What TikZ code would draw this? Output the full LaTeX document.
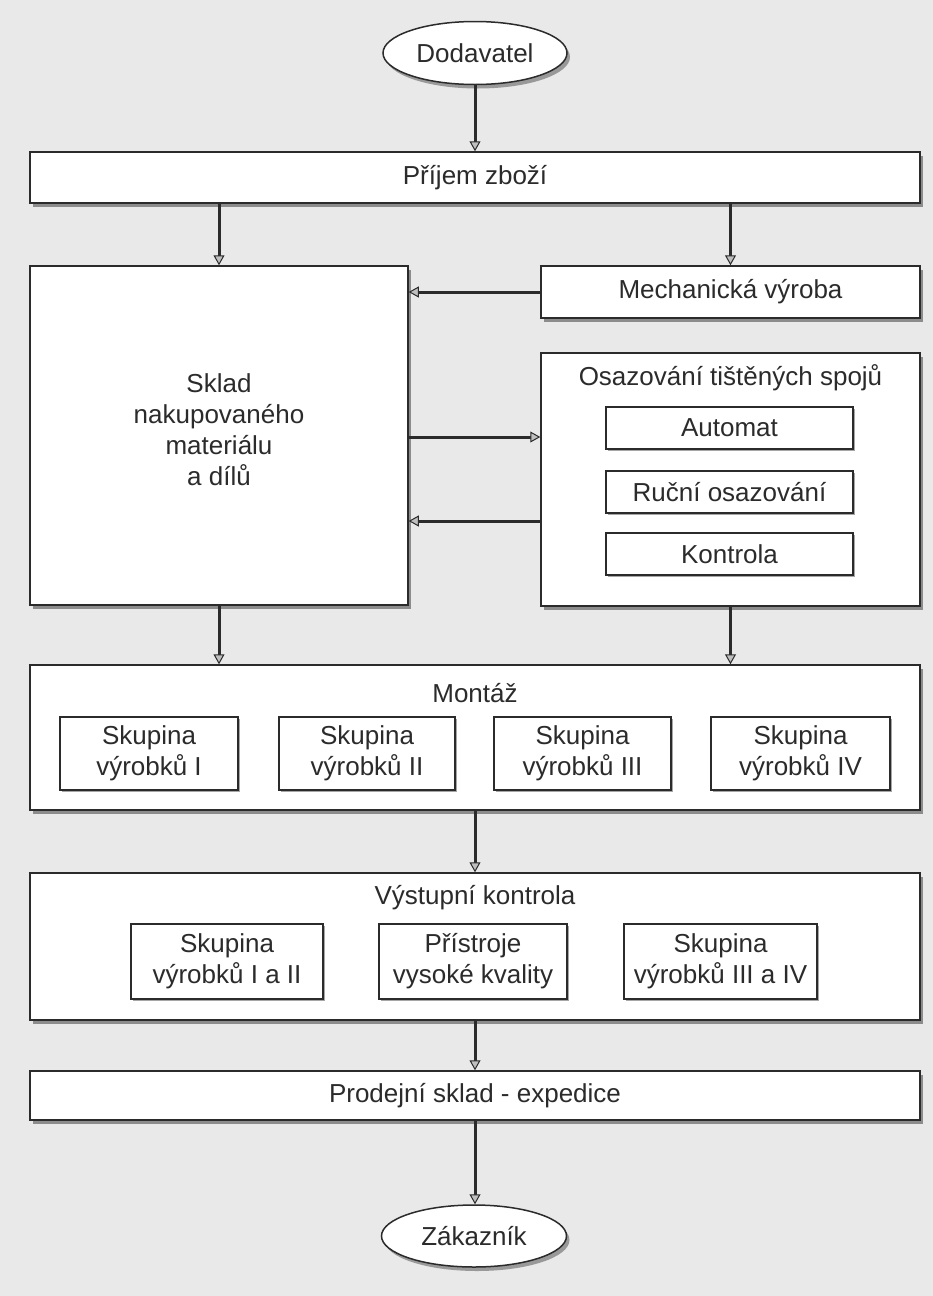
\documentclass[tikz,border=0pt]{standalone}
\usepackage{fontspec}
\setmainfont{Liberation Sans}
\usetikzlibrary{shapes.geometric,shadows,arrows.meta}
\definecolor{ink}{HTML}{2B2B2B}
\definecolor{paper}{HTML}{E9E9E9}
\begin{document}
\begin{tikzpicture}[x=1pt,y=-1pt,
  every node/.style={font=\fontsize{26}{31}\selectfont, text=ink, inner sep=0pt, align=center},
  box/.style={rectangle, draw=ink, line width=1.5pt, fill=white,
    drop shadow={shadow xshift=3pt, shadow yshift=-4pt, fill=black!45, opacity=1}},
  subbox/.style={rectangle, draw=ink, line width=1.3pt, fill=white,
    drop shadow={shadow xshift=1.5pt, shadow yshift=-2pt, fill=black!35, opacity=1}},
  oval/.style={ellipse, draw=ink, line width=1.5pt, fill=white,
    drop shadow={shadow xshift=3pt, shadow yshift=-4pt, fill=black!40, opacity=1}},
  title/.style={font=\fontsize{26}{31}\selectfont},
  arr/.style={draw=ink, line width=3pt,
    -{Triangle[width=11pt,length=10pt,fill=black!25,line width=1pt]}}
]
% paper
\fill[paper] (0,0) rectangle (933,1296);
\useasboundingbox (0,0) rectangle (933,1296);

% terminals
\node[oval, minimum width=184pt, minimum height=63pt] (dod) at (475,53) {Dodavatel};
\node[oval, minimum width=185pt, minimum height=62pt] (zak) at (474,1236) {Zákazník};

% receiving
\node[box, minimum width=890pt, minimum height=51pt] (prijem) at (475,177.5) {Příjem zboží};

% store of purchased material
\node[box, minimum width=378pt, minimum height=339pt] (sklad) at (219,435.5) {};
\node (skladtxt) at (219,430) {Sklad\\nakupovaného\\materiálu\\a dílů};

% mechanical production
\node[box, minimum width=379pt, minimum height=52pt] (mech) at (730.5,292) {Mechanická výroba};

% PCB assembly
\node[box, minimum width=379pt, minimum height=253pt] (osaz) at (730.5,479.5) {};
\node[title] (osaztit) at (730.5,378) {Osazování tištěných spojů};
\node[subbox, minimum width=247pt, minimum height=42pt] (automat) at (729.5,428) {Automat};
\node[subbox, minimum width=247pt, minimum height=42pt] (rucni) at (729.5,492) {Ruční osazování};
\node[subbox, minimum width=247pt, minimum height=42pt] (kontrola) at (729.5,554) {Kontrola};

% assembly
\node[box, minimum width=890pt, minimum height=145pt] (montaz) at (475,737.5) {};
\node[title] (montit) at (475,693) {Montáž};
\node[subbox, minimum width=178pt, minimum height=73pt] (m1) at (149,753.5) {Skupina\\výrobků I};
\node[subbox, minimum width=176pt, minimum height=73pt] (m2) at (367,753.5) {Skupina\\výrobků II};
\node[subbox, minimum width=177pt, minimum height=73pt] (m3) at (582.5,753.5) {Skupina\\výrobků III};
\node[subbox, minimum width=179pt, minimum height=73pt] (m4) at (800.5,753.5) {Skupina\\výrobků IV};

% final inspection
\node[box, minimum width=890pt, minimum height=147pt] (vystup) at (475,946.5) {};
\node[title] (vystit) at (475,898) {Výstupní kontrola};
\node[subbox, minimum width=192pt, minimum height=75pt] (v1) at (227,961.5) {Skupina\\výrobků I a II};
\node[subbox, minimum width=188pt, minimum height=75pt] (v2) at (473,961.5) {Přístroje\\vysoké kvality};
\node[subbox, minimum width=193pt, minimum height=75pt] (v3) at (720.5,961.5) {Skupina\\výrobků III a IV};

% sales store
\node[box, minimum width=890pt, minimum height=49pt] (prodej) at (475,1095.5) {Prodejní sklad - expedice};

% flows
\draw[arr] (dod.south) -- (prijem.north);
\draw[arr] (prijem.south -| sklad.north) -- (sklad.north);
\draw[arr] (prijem.south -| mech.north) -- (mech.north);
\draw[arr] (mech.west) -- (sklad.east |- mech.west);
\draw[arr] (sklad.east |- 0,437) -- (osaz.west |- 0,437);
\draw[arr] (osaz.west |- 0,521) -- (sklad.east |- 0,521);
\draw[arr] (sklad.south) -- (montaz.north -| sklad.south);
\draw[arr] (osaz.south) -- (montaz.north -| osaz.south);
\draw[arr] (montaz.south) -- (vystup.north);
\draw[arr] (vystup.south) -- (prodej.north);
\draw[arr] (prodej.south) -- (zak.north -| prodej.south);
\end{tikzpicture}
\end{document}
